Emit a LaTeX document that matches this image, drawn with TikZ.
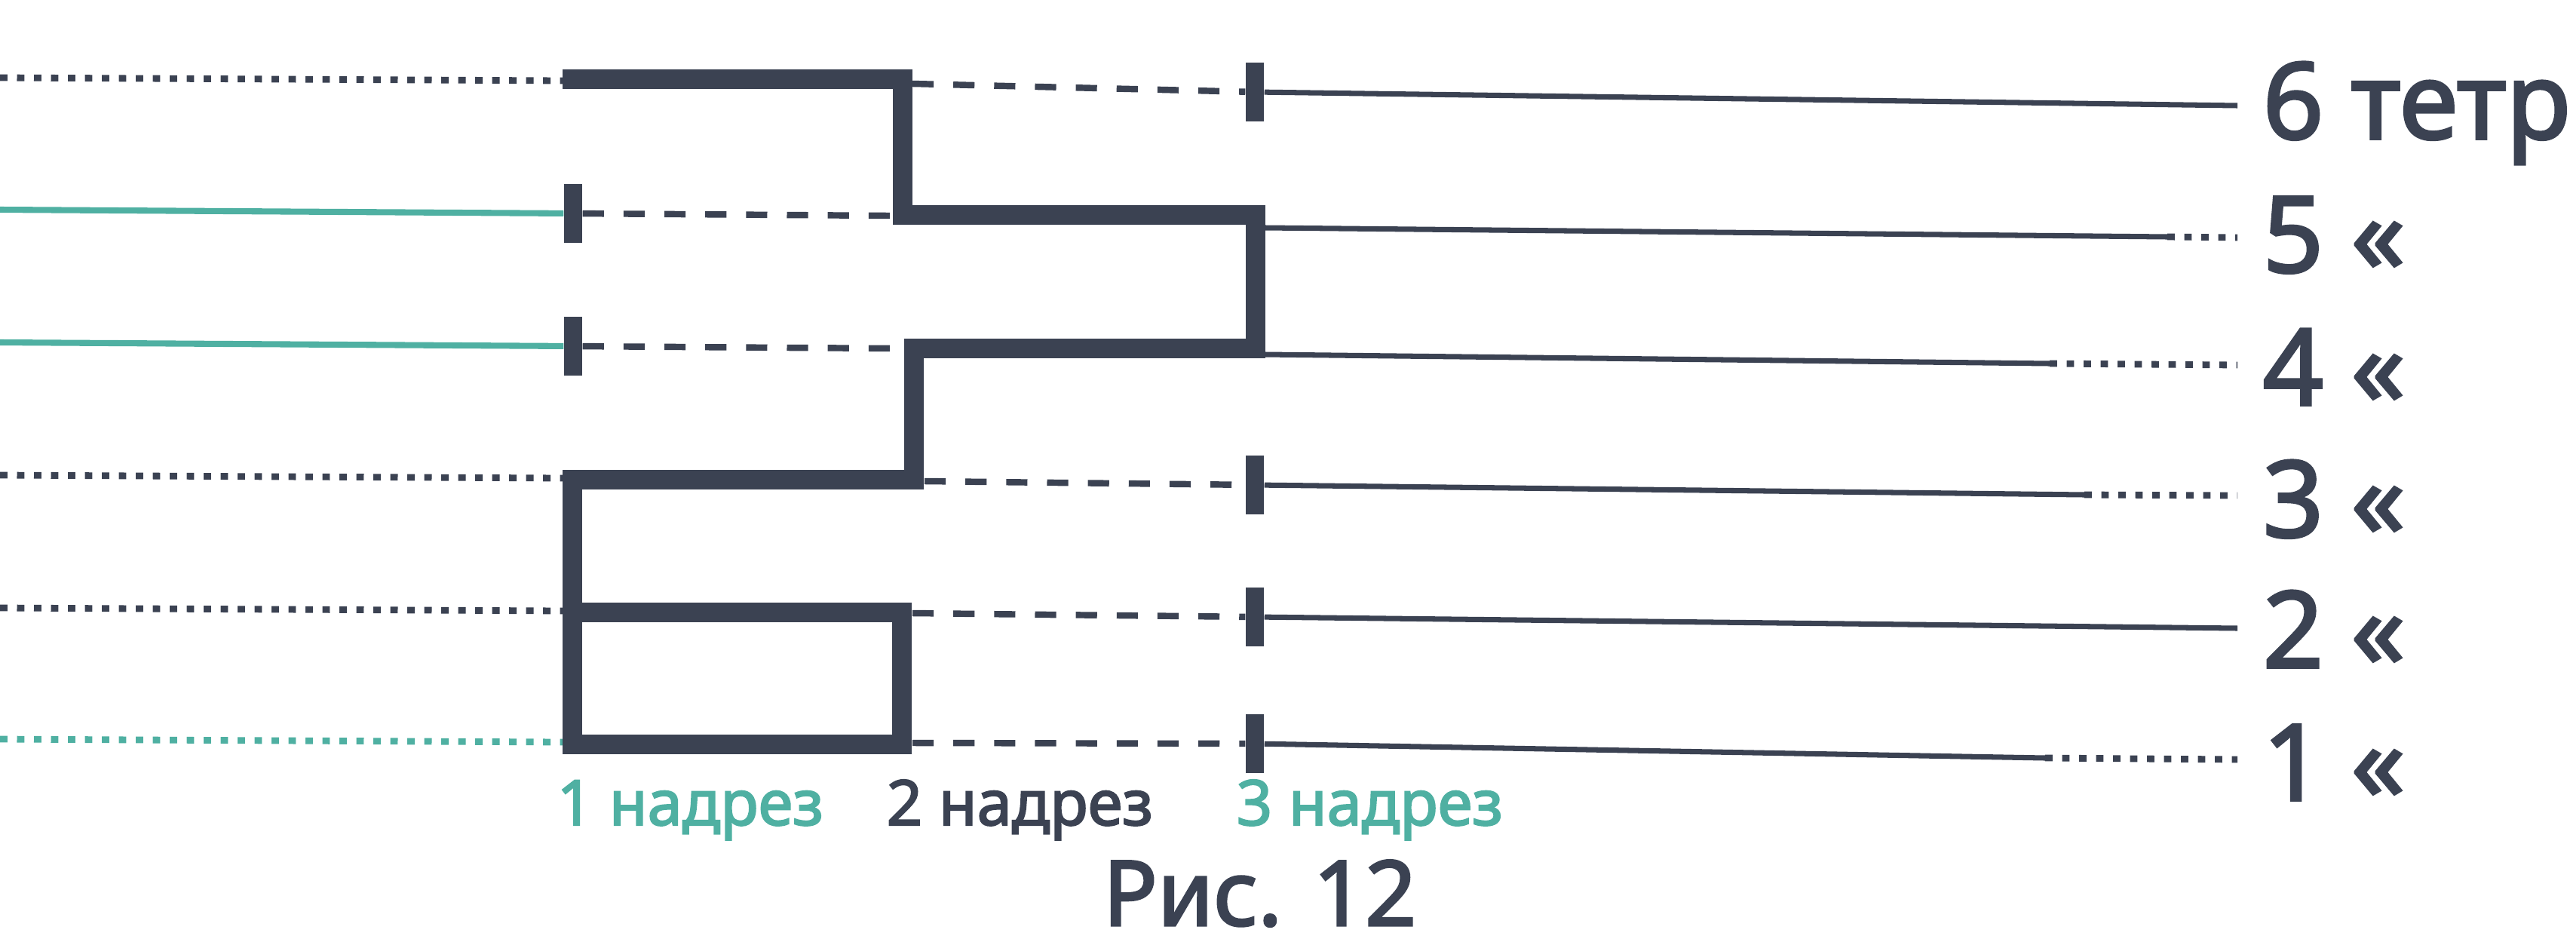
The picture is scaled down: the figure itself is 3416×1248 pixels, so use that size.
\documentclass[tikz,border=0pt]{standalone}
\usepackage{fontspec}
\setmainfont{Noto Sans}[FakeBold=2.5]
\usetikzlibrary{positioning,calc}
\definecolor{ink}{HTML}{3B4252}
\definecolor{sea}{HTML}{4FB0A2}
\tikzset{
  bar/.style={draw=ink, line width=7.4pt, line join=miter},
  tickmark/.style={fill=ink, inner sep=0pt, minimum width=0.24cm, minimum height=0.78cm},
  thinline/.style={draw=ink, line width=2pt},
  cutline/.style={draw=sea, line width=2.3pt},
  dashline/.style={draw=ink, line width=2.4pt, dash pattern=on 8pt off 7.4pt},
  dotline/.style={line width=2.5pt, dash pattern=on 2.8pt off 3.6pt},
  rowlabel/.style={ink, anchor=base west, inner sep=0pt, font=\fontsize{40}{48}\selectfont},
  cutlabel/.style={anchor=base west, inner sep=0pt, font=\fontsize{23.6}{28}\selectfont}
}

\begin{document}
\begin{tikzpicture}[x=0.01cm, y=-0.01cm]
    \useasboundingbox (0,0) rectangle (3416,1248);

    % left ends
    \coordinate (s6) at (0,103);  \coordinate (w6) at (746,107);
    \coordinate (s5) at (0,278);
    \coordinate (s4) at (0,454);
    \coordinate (s3) at (0,630);  \coordinate (w3) at (746,634);
    \coordinate (s2) at (0,806);  \coordinate (w2) at (746,810);
    \coordinate (s1) at (0,980);  \coordinate (w1) at (746,984);

    % ticks of cut 1 and cut 3
    \node[tickmark] (a5) at (760,283) {};
    \node[tickmark] (a4) at (760,459) {};
    \node[tickmark] (c6) at (1664,122) {};
    \node[tickmark] (c3) at (1664,643) {};
    \node[tickmark] (c2) at (1664,818) {};
    \node[tickmark] (c1) at (1664,986) {};

    % ends of the thick steps
    \coordinate (m6) at (1210,111);
    \coordinate (m5) at (1180,286);
    \coordinate (m4) at (1186,462);
    \coordinate (m3) at (1226,638);
    \coordinate (m2) at (1210,813);
    \coordinate (m1) at (1210,985);
    \coordinate (r5) at (1678,302);
    \coordinate (r4) at (1678,470);

    % right ends
    \coordinate (d5) at (2874,314);  \coordinate (e5) at (2967,315);
    \coordinate (d4) at (2718,482);  \coordinate (e4) at (2967,484);
    \coordinate (d3) at (2764,656);  \coordinate (e3) at (2967,657);
    \coordinate (d1) at (2712,1005); \coordinate (e1) at (2967,1007);
    \coordinate (e6) at (2967,140);
    \coordinate (e2) at (2967,833);

    % left lines
    \draw[dotline, ink] (s6) -- (w6);
    \draw[cutline] (s5) -- (a5);
    \draw[cutline] (s4) -- (a4);
    \draw[dotline, ink] (s3) -- (w3);
    \draw[dotline, ink] (s2) -- (w2);
    \draw[dotline, sea] (s1) -- (w1);

    % thick steps
    \draw[bar] (746,105) -| (1197,285) -| (1665,462) -| (1212,636)
        -| (759,987) -| (1196,812) -- (746,812);

    % dashed parts
    \draw[dashline] (m6) -- (c6);
    \draw[dashline] (a5) -- (m5);
    \draw[dashline] (a4) -- (m4);
    \draw[dashline] (m3) -- (c3);
    \draw[dashline] (m2) -- (c2);
    \draw[dashline] (m1) -- (c1);

    % right lines
    \draw[thinline] (c6) -- (e6);
    \draw[thinline] (r5) -- (d5);  \draw[dotline, ink] (d5) -- (e5);
    \draw[thinline] (r4) -- (d4);  \draw[dotline, ink] (d4) -- (e4);
    \draw[thinline] (c3) -- (d3);  \draw[dotline, ink] (d3) -- (e3);
    \draw[thinline] (c2) -- (e2);
    \draw[thinline] (c1) -- (d1);  \draw[dotline, ink] (d1) -- (e1);

    % labels
    \node[rowlabel] (l6) at (3000,184) {6 тетр.};
    \node[rowlabel] (l5) at (3000,361) {5 «};
    \node[rowlabel] (l4) at (3000,537) {4 «};
    \node[rowlabel] (l3) at (3000,712) {3 «};
    \node[rowlabel] (l2) at (3000,885) {2 «};
    \node[rowlabel] (l1) at (3000,1061) {1 «};

    \node[cutlabel, sea] (cut1) at (738,1094) {1 надрез};
    \node[cutlabel, ink] (cut2) at (1175,1094) {2 надрез};
    \node[cutlabel, sea] (cut3) at (1639,1094) {3 надрез};
    \node[ink, anchor=base west, inner sep=0pt, text depth=0pt, font=\fontsize{34}{40}\selectfont] (fig) at (1462,1227) {Рис. 12};
\end{tikzpicture}
\end{document}
